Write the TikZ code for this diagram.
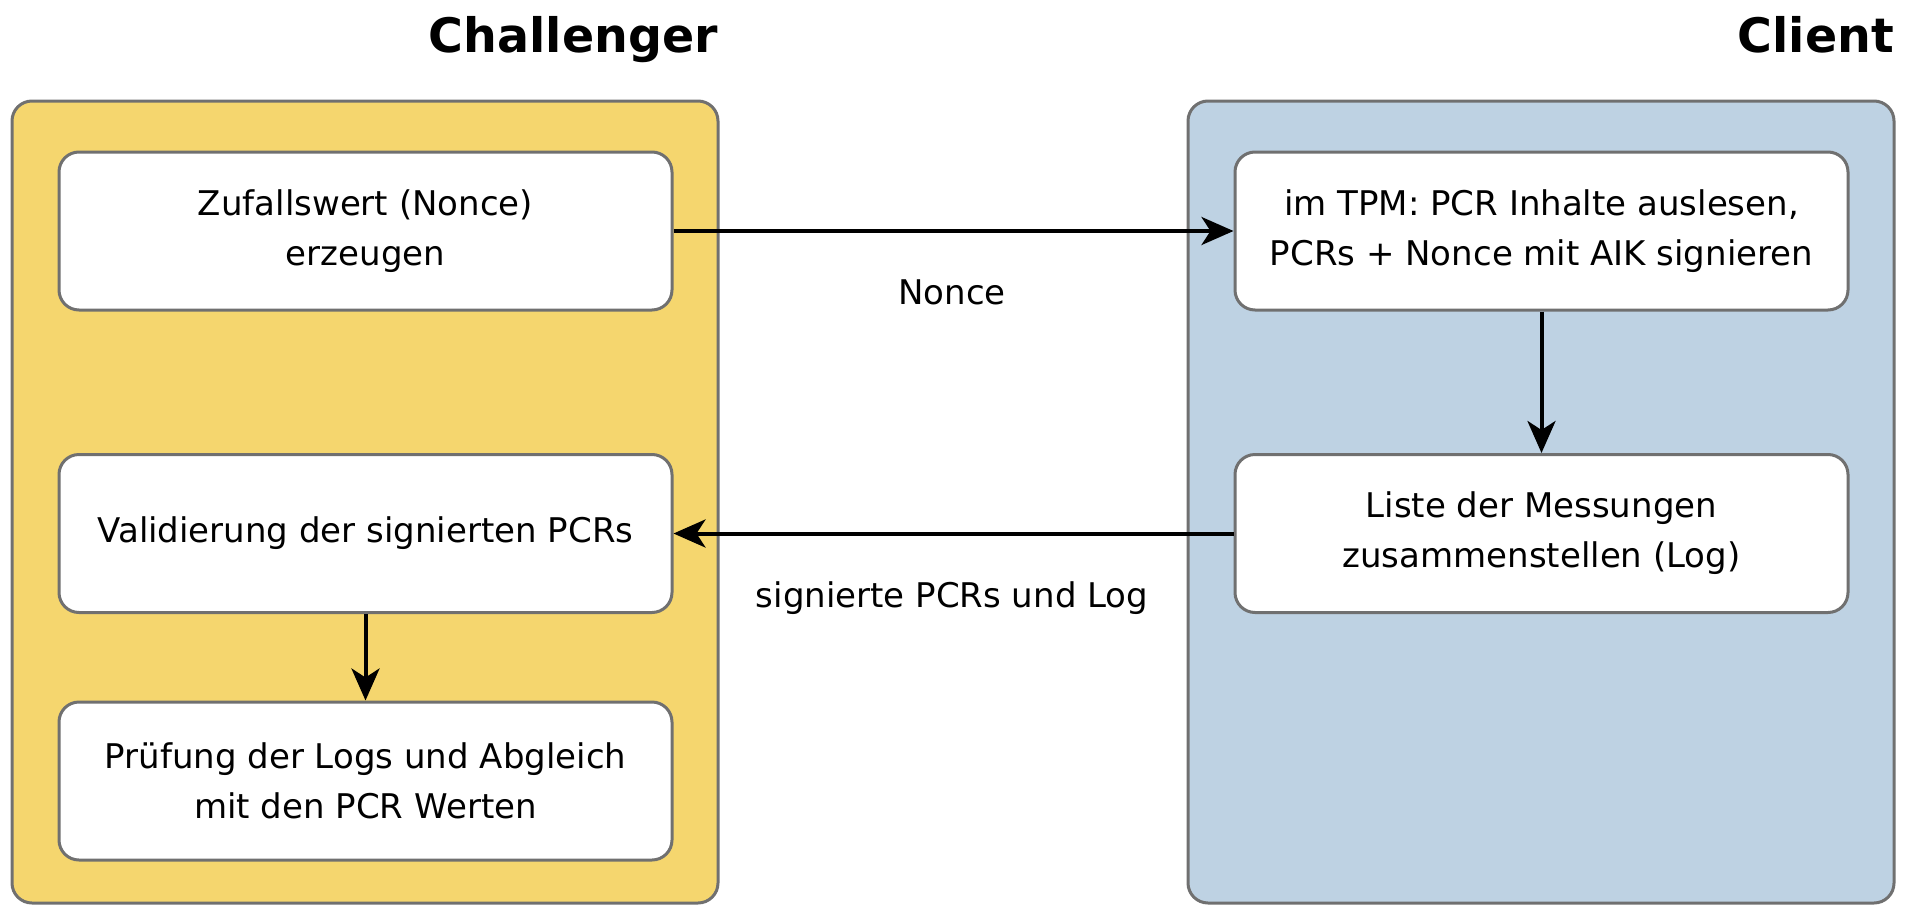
\documentclass[tikz,border=0pt]{standalone}
\usepackage{fontspec}
\setmainfont{DejaVu Sans}
\usetikzlibrary{arrows.meta}
\definecolor{laneyellow}{RGB}{245,214,110}
\definecolor{laneblue}{RGB}{190,210,227}
\definecolor{bordergray}{RGB}{112,112,112}
\tikzset{
  lane/.style={draw=bordergray, line width=3pt, rounded corners=20pt,
    minimum width=706pt, minimum height=802pt, inner sep=0pt},
  stepbox/.style={draw=bordergray, fill=white, line width=3pt, rounded corners=20pt,
    minimum width=613pt, minimum height=158pt, inner sep=0pt, align=center,
    font=\fontsize{34}{50}\selectfont},
  title/.style={inner sep=0pt, anchor=base east, font=\fontsize{47.5}{55}\selectfont\bfseries},
  msg/.style={inner sep=0pt, anchor=base, font=\fontsize{34}{50}\selectfont},
  flow/.style={line width=4pt, -{Stealth[length=32pt,width=28pt,inset=9pt]}}
}
\begin{document}
\begin{tikzpicture}[x=1pt,y=-1pt]
\useasboundingbox (0,0) rectangle (1907,905);
\node[title] (tchal) at (718,52) {Challenger};
\node[title] (tcli) at (1894,52) {Client};
\node[lane, fill=laneyellow] (chal) at (365,502) {};
\node[lane, fill=laneblue] (cli) at (1541,502) {};
\node[stepbox] (a1) at (365.5,231) {Zufallswert (Nonce)\\erzeugen};
\node[stepbox] (a2) at (365.5,533.5) {Validierung der signierten PCRs};
\node[stepbox] (a3) at (365.5,781) {Prüfung der Logs und Abgleich\\mit den PCR Werten};
\node[stepbox] (b1) at (1541.5,231) {im TPM: PCR Inhalte auslesen,\\PCRs + Nonce mit AIK signieren};
\node[stepbox] (b2) at (1541.5,533.5) {Liste der Messungen\\zusammenstellen (Log)};
\draw[flow] (a1.east) -- (b1.west);
\draw[flow] (b2.west) -- (a2.east);
\draw[flow] (a2.south) -- (a3.north);
\draw[flow] (b1.south) -- (b2.north);
\node[msg] (l1) at (952,304) {Nonce};
\node[msg] (l2) at (952,607) {signierte PCRs und Log};
\end{tikzpicture}
\end{document}
